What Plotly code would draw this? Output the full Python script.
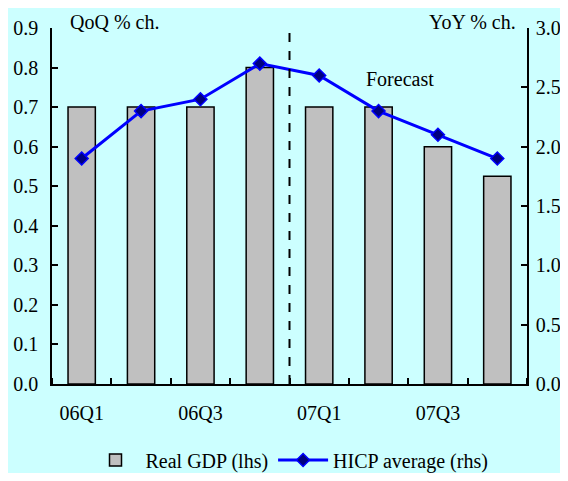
import plotly.graph_objects as go

QUARTERS = ["06Q1", "06Q2", "06Q3", "06Q4", "07Q1", "07Q2", "07Q3", "07Q4"]
GDP = [0.7, 0.7, 0.7, 0.8, 0.7, 0.7, 0.6, 0.525]
HICP = [1.9, 2.3, 2.4, 2.7, 2.6, 2.3, 2.1, 1.9]
FORECAST_AFTER = 3.5   # boundary between 06Q4 and 07Q1

CYAN = "#CCFFFF"
FONT = "Liberation Serif"
FS = 20

# the page body has an 8px margin on every side; the figure lives inside it
OFF = 8
W, H = 568 - 2 * OFF, 481 - 2 * OFF
L, T = 52 - OFF, 28 - OFF
R, B = W - (527 - OFF), H - (384 - OFF)

xs = list(range(len(QUARTERS)))

fig = go.Figure()

fig.add_trace(go.Bar(
    x=xs, y=GDP,
    name="Real GDP (lhs)",
    width=0.46,
    marker=dict(color="#C0C0C0", line=dict(color="black", width=1.5)),
    yaxis="y",
))

fig.add_trace(go.Scatter(
    x=xs, y=HICP,
    name="HICP average (rhs)",
    mode="lines+markers",
    line=dict(color="#0000FF", width=3),
    marker=dict(symbol="diamond", size=10, color="#000080",
                line=dict(color="#0000FF", width=1.5)),
    yaxis="y2",
))

# forecast divider
fig.add_shape(type="line", xref="x", yref="paper",
              x0=FORECAST_AFTER, x1=FORECAST_AFTER, y0=0, y1=1,
              line=dict(color="black", width=2, dash="dash"))

pw = W - L - R
ph = H - T - B
def px(v):
    # window x -> paper
    return (v - OFF - L) / pw
def py(v):
    # window y -> paper
    return 1 + (T - (v - OFF)) / ph

fig.add_annotation(text="QoQ % ch.", xref="paper", yref="paper",
                   x=px(68), y=py(22), xanchor="left", yanchor="middle",
                   showarrow=False)
fig.add_annotation(text="YoY % ch.", xref="paper", yref="paper",
                   x=px(518), y=py(22), xanchor="right", yanchor="middle",
                   showarrow=False)
fig.add_annotation(text="Forecast", xref="paper", yref="paper",
                   x=px(364), y=py(79), xanchor="left", yanchor="middle",
                   showarrow=False)

fig.update_layout(
    width=W, height=H,
    margin=dict(l=L, r=R, t=T, b=B, autoexpand=False),
    paper_bgcolor=CYAN,
    plot_bgcolor=CYAN,
    font=dict(family=FONT, size=FS, color="black"),
    showlegend=True,
    legend=dict(orientation="h", x=0.5, xanchor="center",
                y=py(460), yanchor="middle",
                bgcolor="rgba(0,0,0,0)",
                itemwidth=50, traceorder="normal"),
    xaxis=dict(
        range=[-0.5, len(QUARTERS) - 0.5],
        tickvals=xs[::2], ticktext=QUARTERS[::2],
        ticks="", showgrid=False, zeroline=False, automargin=False,
        showline=True, linecolor="black", linewidth=1.5,
        ticklabelstandoff=10,
        minor=dict(tick0=-0.5, dtick=1, ticks="inside", ticklen=6,
                   tickcolor="black", tickwidth=1.5, showgrid=False),
    ),
    yaxis=dict(
        range=[0, 0.9], dtick=0.1, tickformat=".1f",
        ticks="inside", ticklen=6, tickwidth=1.5, tickcolor="black",
        showgrid=False, zeroline=False, automargin=False,
        showline=True, linecolor="black", linewidth=1.5,
        ticklabelstandoff=8,
    ),
    yaxis2=dict(
        range=[0, 3.0], dtick=0.5, tickformat=".1f",
        overlaying="y", side="right",
        ticks="inside", ticklen=6, tickwidth=1.5, tickcolor="black",
        showgrid=False, zeroline=False, automargin=False,
        showline=True, linecolor="black", linewidth=1.5,
        ticklabelstandoff=3,
    ),
)

fig.write_html("out.html")
